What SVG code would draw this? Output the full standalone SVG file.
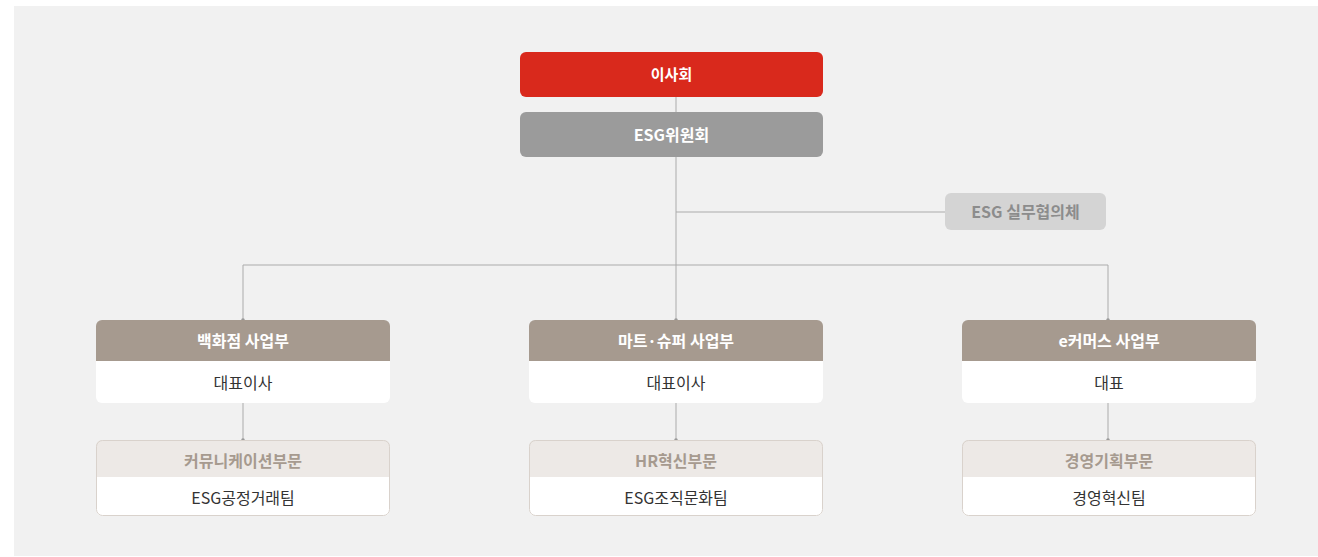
<svg xmlns="http://www.w3.org/2000/svg" width="1318" height="557" viewBox="0 0 1318 557">
<defs>
<style>
text{font-family:"Noto Sans CJK KR","Noto Sans",sans-serif;font-size:16px;text-anchor:middle;dominant-baseline:central}
.b{font-weight:700}
.w{fill:#ffffff}
.line{stroke:#ababab;stroke-width:1;fill:none}
.hd{fill:#a69a8f}
.bd{fill:#ffffff}
.sub{fill:#ede9e6}
.bor{fill:none;stroke:#d9d2cc;stroke-width:1}
</style>
<marker id="dot" viewBox="0 0 4 4" refX="2" refY="2" markerWidth="4" markerHeight="4" markerUnits="userSpaceOnUse"><circle cx="2" cy="2" r="1.8" fill="#9a9a9a"/></marker>
<clipPath id="c1"><rect x="96" y="320" width="294" height="83" rx="6"/></clipPath>
<clipPath id="c2"><rect x="529" y="320" width="294" height="83" rx="6"/></clipPath>
<clipPath id="c3"><rect x="962" y="320" width="294" height="83" rx="6"/></clipPath>
<clipPath id="d1"><rect x="96" y="440" width="294" height="76" rx="6"/></clipPath>
<clipPath id="d2"><rect x="529" y="440" width="294" height="76" rx="6"/></clipPath>
<clipPath id="d3"><rect x="962" y="440" width="294" height="76" rx="6"/></clipPath>
</defs>
<rect x="14" y="6" width="1304" height="550" fill="#f1f1f1"/>
<g id="connectors">
<path class="line" d="M676 97V320"/>
<path class="line" d="M676 212H945"/>
<path class="line" d="M243 320V265H1108V320"/>
<path class="line" d="M243 403V440" marker-end="url(#dot)"/>
<path class="line" d="M676 403V440" marker-end="url(#dot)"/>
<path class="line" d="M1108 403V440" marker-end="url(#dot)"/>
<circle cx="676" cy="320" r="1.8" fill="#9a9a9a"/>
<circle cx="243" cy="320" r="1.8" fill="#9a9a9a"/>
<circle cx="1108" cy="320" r="1.8" fill="#9a9a9a"/>
</g>
<g id="board">
<rect x="520" y="52" width="303" height="45" rx="6" fill="#d9291c"/>
<text x="671.5" y="73.5" class="b w" style="font-size:15px">이사회</text>
</g>
<g id="esg-committee">
<rect x="520" y="112" width="303" height="45" rx="6" fill="#9b9b9b"/>
<text x="671.5" y="133.5" class="b w">ESG위원회</text>
</g>
<g id="esg-working">
<rect x="945" y="193" width="161" height="37" rx="6" fill="#d4d4d4"/>
<text x="1025.5" y="211" class="b" fill="#8c8c8c">ESG 실무협의체</text>
</g>
<g id="dept-store">
<g clip-path="url(#c1)"><rect class="hd" x="96" y="320" width="294" height="41"/><rect class="bd" x="96" y="361" width="294" height="42"/></g>
<text x="243" y="339.5" class="b w">백화점 사업부</text>
<text x="243" y="382" fill="#333">대표이사</text>
</g>
<g id="mart">
<g clip-path="url(#c2)"><rect class="hd" x="529" y="320" width="294" height="41"/><rect class="bd" x="529" y="361" width="294" height="42"/></g>
<text x="676" y="339.5" class="b w">마트·슈퍼 사업부</text>
<text x="676" y="382" fill="#333">대표이사</text>
</g>
<g id="ecommerce">
<g clip-path="url(#c3)"><rect class="hd" x="962" y="320" width="294" height="41"/><rect class="bd" x="962" y="361" width="294" height="42"/></g>
<text x="1109" y="339.5" class="b w">e커머스 사업부</text>
<text x="1109" y="382" fill="#333">대표</text>
</g>
<g id="comm">
<g clip-path="url(#d1)"><rect class="sub" x="96" y="440" width="294" height="37"/><rect class="bd" x="96" y="477" width="294" height="39"/></g>
<rect class="bor" x="96.5" y="440.5" width="293" height="75" rx="6"/>
<text x="243" y="459.5" class="b" fill="#a69a8f">커뮤니케이션부문</text>
<text x="243" y="496.5" fill="#333">ESG공정거래팀</text>
</g>
<g id="hr">
<g clip-path="url(#d2)"><rect class="sub" x="529" y="440" width="294" height="37"/><rect class="bd" x="529" y="477" width="294" height="39"/></g>
<rect class="bor" x="529.5" y="440.5" width="293" height="75" rx="6"/>
<text x="676" y="459.5" class="b" fill="#a69a8f">HR혁신부문</text>
<text x="676" y="496.5" fill="#333">ESG조직문화팀</text>
</g>
<g id="planning">
<g clip-path="url(#d3)"><rect class="sub" x="962" y="440" width="294" height="37"/><rect class="bd" x="962" y="477" width="294" height="39"/></g>
<rect class="bor" x="962.5" y="440.5" width="293" height="75" rx="6"/>
<text x="1109" y="459.5" class="b" fill="#a69a8f">경영기획부문</text>
<text x="1109" y="496.5" fill="#333">경영혁신팀</text>
</g>
</svg>
